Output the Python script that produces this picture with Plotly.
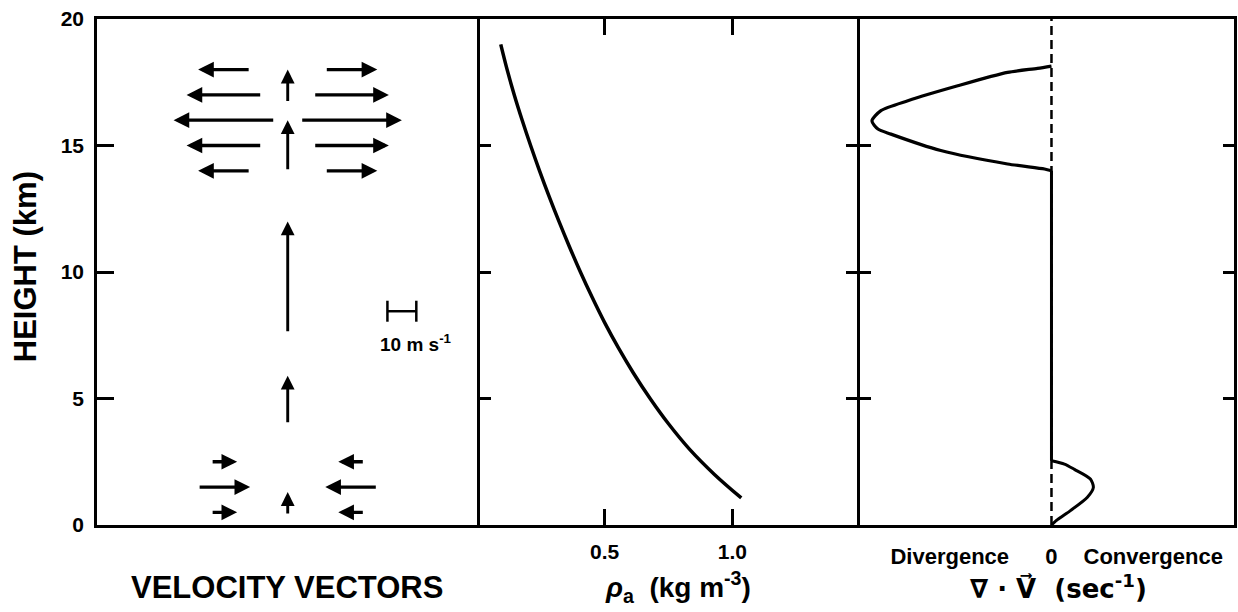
import plotly.graph_objects as go

# ---------------- data ----------------
# Panel 1: velocity vectors (horizontal speed in m/s, heights in km)
outflow_heights = [18, 17, 16, 15, 14]
outflow_speed = [18, 26, 35, 26, 18]
inflow_heights = [2.5, 1.5, 0.5]
inflow_speed = [9, 18, 9]
updraft_base = [0.4, 4.0, 7.6, 14.0, 16.7]
updraft_top = [1.3, 5.9, 12.0, 16.0, 18.0]
scale_bar_speed = 10  # m/s

# Panel 2: air density profile
rho_heights = [1.07, 2, 3, 4, 5, 6, 7, 8, 9, 10, 11, 12, 13, 14, 15, 16, 17, 18, 19]
rho_values = [1.035, 0.93, 0.832, 0.75, 0.678, 0.613, 0.554, 0.50, 0.451, 0.405,
              0.362, 0.321, 0.282, 0.245, 0.21, 0.177, 0.146, 0.118, 0.093]
rho_ticks = [0.5, 1.0]
rho_ticklabels = ["0.5", "1.0"]

# Panel 3: divergence profile (convergence positive, arbitrary units)
conv_heights = [0, 0.21, 0.57, 1.1, 1.49, 1.82, 2.2, 2.41, 2.54]
conv_values = [0, 0.06, 0.19, 0.36, 0.42, 0.39, 0.23, 0.13, 0]
div_heights = [14.0, 14.07, 14.27, 14.8, 15.45, 15.65, 15.97, 16.38, 16.77, 17.36, 17.89, 18.05, 18.14]
div_values = [0, -0.07, -0.44, -1.11, -1.61, -1.74, -1.80, -1.71, -1.44, -0.94, -0.44, -0.14, 0]
zero_heights = [2.54, 14.0]
zero_values = [0, 0]
div_tick_pos = [-1.02, 0, 1.02]
div_tick_text = ["Divergence", "0", "Convergence"]

height_ticks = [0, 5, 10, 15, 20]
height_range = [0, 20]

# ---------------- style ----------------
FONT = "Liberation Sans"
SYMFONT = "DejaVu Sans"
INK = "black"
column_offset = 22  # m/s, x-position of the horizontal-vector columns
PLOT_H_PX = 506     # plot-area height in pixels
TICK_LEN = 16       # px

fig = go.Figure()

fig.add_trace(go.Scatter(x=[0], y=[0], mode="markers", marker=dict(opacity=0),
                         xaxis="x", yaxis="y", showlegend=False, hoverinfo="skip"))

# scale bar
sb_x0 = 34.5
fig.add_trace(go.Scatter(x=[sb_x0, sb_x0 + scale_bar_speed], y=[8.45, 8.45],
                         mode="lines+markers",
                         line=dict(color=INK, width=2.5),
                         marker=dict(symbol="line-ns-open", size=15, color=INK,
                                     line=dict(width=2.5, color=INK)),
                         xaxis="x", yaxis="y", showlegend=False, hoverinfo="skip"))

annotations = []

def arrow(x_tail, y_tail, x_head, y_head, width=3.3):
    annotations.append(dict(
        x=x_head, y=y_head, ax=x_tail, ay=y_tail,
        xref="x", yref="y", axref="x", ayref="y",
        text="", showarrow=True, arrowhead=2, arrowsize=0.95,
        arrowwidth=width, arrowcolor=INK, standoff=0, startstandoff=0))

for h, u in zip(outflow_heights, outflow_speed):
    arrow(column_offset - u / 2, h, column_offset + u / 2, h)
    arrow(-column_offset + u / 2, h, -column_offset - u / 2, h)
for h, u in zip(inflow_heights, inflow_speed):
    arrow(-column_offset - u / 2, h, -column_offset + u / 2, h)
    arrow(column_offset + u / 2, h, column_offset - u / 2, h)
for b, t in zip(updraft_base, updraft_top):
    arrow(0, b, 0, t, width=2.9)

annotations.append(dict(x=44.5, y=7.2, xref="x", yref="y",
                        text="10 m s<sup>-1</sup>", showarrow=False,
                        font=dict(family=FONT, size=19, color=INK, weight="bold")))

# Panel 2: density curve
fig.add_trace(go.Scatter(x=rho_values, y=rho_heights, mode="lines",
                         line=dict(color=INK, width=3.5, shape="spline", smoothing=1.0),
                         xaxis="x2", yaxis="y2", showlegend=False))

# Panel 3: zero line (dashed) and profile
fig.add_trace(go.Scatter(x=[0, 0], y=height_range, mode="lines",
                         line=dict(color=INK, width=2.5, dash="9px,5px"),
                         xaxis="x3", yaxis="y3", showlegend=False))
fig.add_trace(go.Scatter(x=zero_values, y=zero_heights, mode="lines",
                         line=dict(color=INK, width=3),
                         xaxis="x3", yaxis="y3", showlegend=False))
fig.add_trace(go.Scatter(x=conv_values, y=conv_heights, mode="lines",
                         line=dict(color=INK, width=3, shape="spline", smoothing=0.7),
                         xaxis="x3", yaxis="y3", showlegend=False))
fig.add_trace(go.Scatter(x=div_values, y=div_heights, mode="lines",
                         line=dict(color=INK, width=3.2, shape="spline", smoothing=0.7),
                         xaxis="x3", yaxis="y3", showlegend=False))

# Panel 2: inward tick marks on the density axis, top and bottom
tick_frac = TICK_LEN / PLOT_H_PX
shapes = []
for v in rho_ticks:
    shapes.append(dict(type="line", xref="x2", yref="paper", x0=v, x1=v,
                       y0=0, y1=tick_frac, layer="above",
                       line=dict(color=INK, width=2.5)))
    shapes.append(dict(type="line", xref="x2", yref="paper", x0=v, x1=v,
                       y0=1 - tick_frac, y1=1, layer="above",
                       line=dict(color=INK, width=2.5)))

d1 = 381 / 1140
d2 = 765 / 1140

base = dict(linecolor=INK, linewidth=2.5, showgrid=False,
            zeroline=False, tickcolor=INK, tickwidth=2.5)

fig.update_layout(
    width=1238, height=612,
    margin=dict(l=97, r=1, t=19, b=87),
    paper_bgcolor="white", plot_bgcolor="white",
    font=dict(family=FONT, color=INK),
    shapes=shapes,
    xaxis=dict(domain=[0, d1], range=[-66, 65.5], showline=True, mirror=True, ticks="",
               showticklabels=False, **base),
    yaxis=dict(range=height_range, tickvals=height_ticks, ticks="inside", ticklen=17,
               showline=True, mirror=True, ticklabelstandoff=6,
               tickfont=dict(family=FONT, size=21, color=INK, weight="bold"),
               **base),
    xaxis2=dict(domain=[d1, d2], range=[0, 1.5], anchor="y2", tickmode="array",
                tickvals=rho_ticks, ticktext=rho_ticklabels, ticks="inside", ticklen=TICK_LEN,
                showline=True, mirror="ticks", ticklabelstandoff=6,
                tickfont=dict(family=FONT, size=21, color=INK, weight="bold"),
                **base),
    yaxis2=dict(range=height_range, anchor="x2", matches="y", tickvals=height_ticks,
                ticks="inside", ticklen=14, showline=False, mirror="ticks",
                showticklabels=False, **base),
    xaxis3=dict(domain=[d2, 1], range=[-1.92, 1.83], anchor="y3", tickvals=div_tick_pos,
                ticktext=div_tick_text, ticks="", showline=True, mirror=True,
                ticklabelstandoff=10,
                tickfont=dict(family=FONT, size=22, color=INK, weight="bold"),
                **base),
    yaxis3=dict(range=height_range, anchor="x3", matches="y", tickvals=height_ticks,
                ticks="inside", ticklen=11, showline=True, mirror="ticks",
                showticklabels=False, **base),
)

title_font = dict(family=FONT, size=31, color=INK, weight="bold")
annotations += [
    dict(text="VELOCITY VECTORS", x=(287 - 97) / 1140, y=(525 - 587) / 506,
         xref="paper", yref="paper", showarrow=False, xanchor="center", yanchor="middle",
         font=title_font),
    dict(text="<i>ρ</i><sub>a</sub>  (kg m<sup>-3</sup>)", x=(680 - 97) / 1140,
         y=(525 - 587) / 506, xref="paper", yref="paper", showarrow=False,
         xanchor="center", yanchor="middle",
         font=dict(family=FONT, size=28, color=INK, weight="bold")),
    dict(text="∇ · V\u20d7  (sec<sup>-1</sup>)", x=(1061 - 97) / 1140,
         y=(525 - 587) / 506, xref="paper", yref="paper", showarrow=False,
         xanchor="center", yanchor="middle",
         font=dict(family=SYMFONT, size=26, color=INK, weight="bold")),
    dict(text="HEIGHT (km)", x=(25 - 97) / 1140, y=(525 - 267) / 506,
         xref="paper", yref="paper", showarrow=False, textangle=-90,
         xanchor="center", yanchor="middle", font=title_font),
]
fig.update_layout(annotations=annotations)

fig.write_html("out.html")
